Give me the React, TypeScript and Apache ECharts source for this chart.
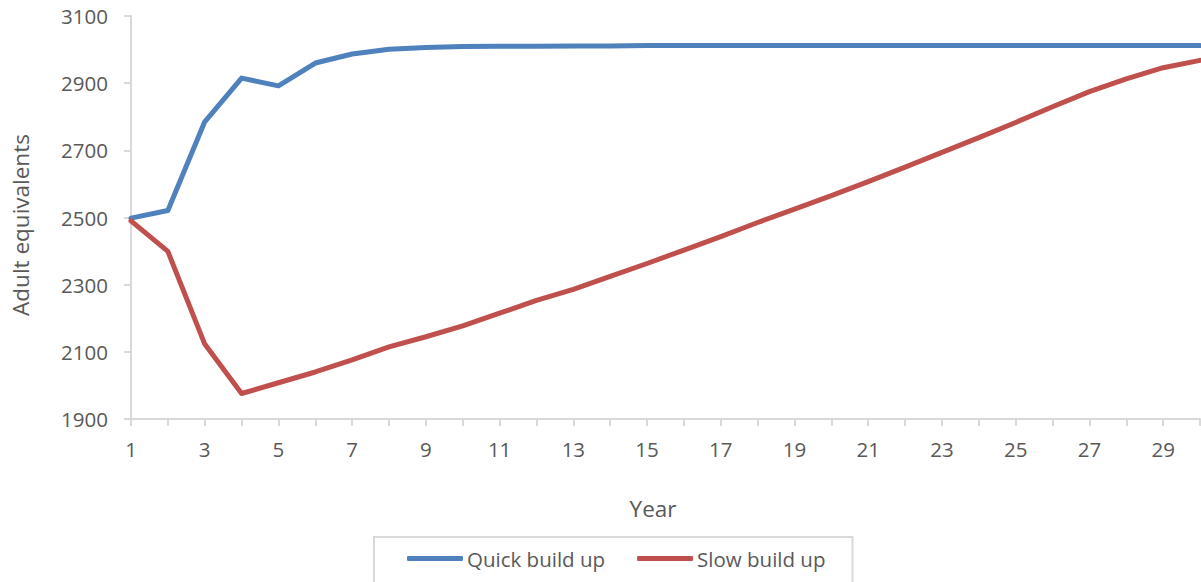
import React, { useEffect, useRef } from "react";
import * as echarts from "echarts";

const years = Array.from({ length: 30 }, (_, i) => String(i + 1));
const quickBuildUp = [
  2498, 2521, 2785, 2915, 2892, 2960, 2987, 3001, 3006, 3009,
  3010, 3010, 3011, 3011, 3012, 3012, 3012, 3012, 3012, 3012,
  3012, 3012, 3012, 3012, 3012, 3012, 3012, 3012, 3012, 3012,
];
const slowBuildUp = [
  2490, 2399, 2123, 1976, 2008, 2040, 2076, 2115, 2145, 2177,
  2215, 2253, 2286, 2325, 2363, 2403, 2443, 2485, 2525, 2565,
  2607, 2650, 2694, 2738, 2783, 2830, 2875, 2913, 2946, 2968,
];
const seriesNames = ["Quick build up", "Slow build up"];
const yAxisTitle = "Adult equivalents";
const xAxisTitle = "Year";

const FONT = "'Open Sans', sans-serif";
const TEXT = "#595959";
const AXIS = "#d9d9d9";

export default function App() {
  const ref = useRef<HTMLDivElement>(null);
  useEffect(() => {
    if (!ref.current) return;
    const chart = echarts.init(ref.current, null, { renderer: "svg" });
    chart.setOption({
      animation: false,
      backgroundColor: "#ffffff",
      textStyle: { fontFamily: FONT },
      grid: { left: 131, right: 1, top: 16, bottom: 163, containLabel: false },
      xAxis: {
        type: "category",
        data: years,
        boundaryGap: false,
        axisLine: { lineStyle: { color: AXIS, width: 2 } },
        axisTick: { show: true, interval: 0, length: 7, lineStyle: { color: AXIS, width: 2 } },
        axisLabel: { interval: 1, color: TEXT, fontSize: 20.5, fontFamily: FONT, margin: 19 },
        splitLine: { show: false },
      },
      yAxis: {
        type: "value",
        min: 1900,
        max: 3100,
        interval: 200,
        axisLine: { show: true, lineStyle: { color: AXIS, width: 2 } },
        axisTick: { show: true, length: 7, lineStyle: { color: AXIS, width: 2 } },
        axisLabel: {
          color: TEXT,
          fontSize: 20.5,
          fontFamily: FONT,
          margin: 23,
          formatter: (v: number) => String(v),
        },
        splitLine: { show: false },
      },
      legend: {
        left: 374,
        top: 537,
        padding: [11, 27, 14, 33],
        borderColor: AXIS,
        borderWidth: 2,
        itemGap: 32,
        itemWidth: 56,
        itemHeight: 5,
        icon: "roundRect",
        textStyle: { color: TEXT, fontSize: 20.5, fontFamily: FONT, padding: [0, 0, 0, -1] },
        data: seriesNames,
      },
      graphic: [
        {
          type: "text",
          x: 20,
          y: 225,
          rotation: Math.PI / 2,
          style: {
            text: yAxisTitle,
            fill: TEXT,
            fontSize: 22.5,
            fontFamily: FONT,
            textAlign: "center",
            textVerticalAlign: "middle",
          },
        },
        {
          type: "text",
          x: 653,
          y: 508,
          style: {
            text: xAxisTitle,
            fill: TEXT,
            fontSize: 22.5,
            fontFamily: FONT,
            textAlign: "center",
            textVerticalAlign: "middle",
          },
        },
      ],
      series: [
        {
          name: seriesNames[0],
          type: "line",
          data: quickBuildUp,
          symbol: "none",
          color: "#4f81bd",
          lineStyle: { color: "#4f81bd", width: 5, join: "round", cap: "round" },
        },
        {
          name: seriesNames[1],
          type: "line",
          data: slowBuildUp,
          symbol: "none",
          color: "#c0504d",
          lineStyle: { color: "#c0504d", width: 5, join: "round", cap: "round" },
        },
      ],
    });
    return () => chart.dispose();
  }, []);
  return (
    <div
      ref={ref}
      style={{ position: "fixed", left: 0, top: 0, width: 1201, height: 582, background: "#fff" }}
    />
  );
}
